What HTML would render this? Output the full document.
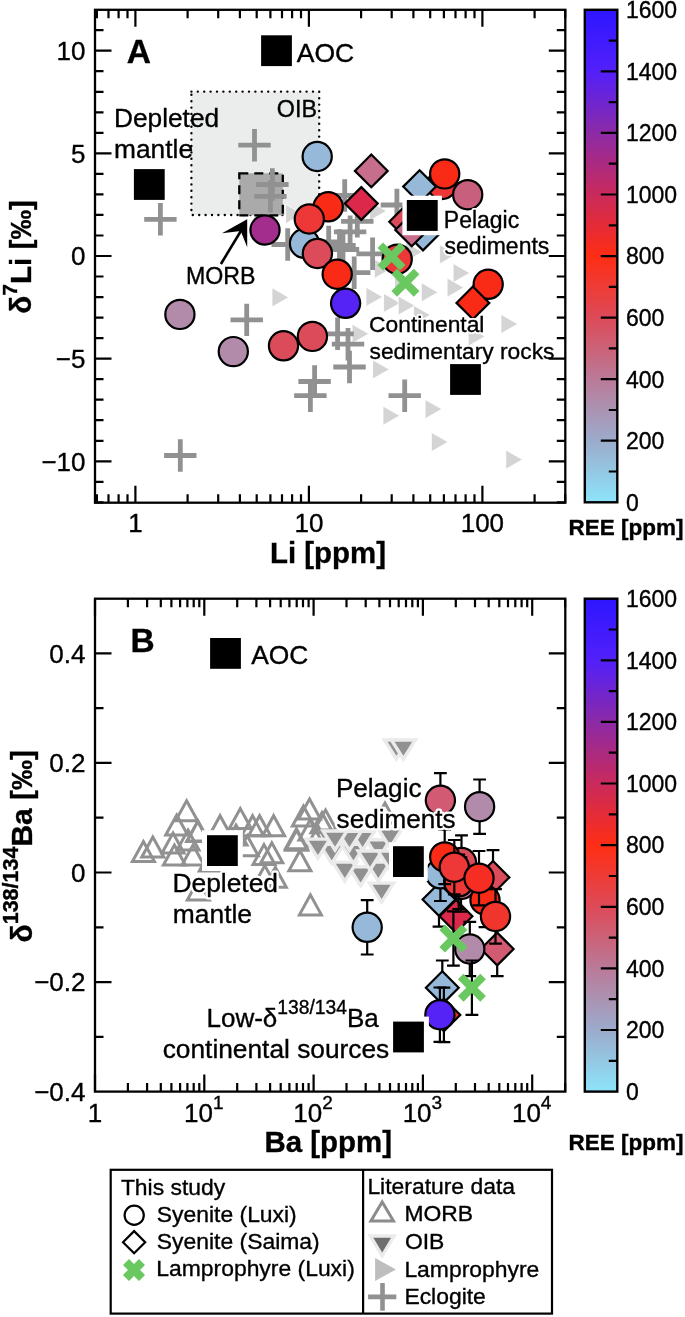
<!DOCTYPE html>
<html><head><meta charset="utf-8"><style>html,body{margin:0;padding:0;background:#fff;}svg{display:block;will-change:transform;}text{font-family:"Liberation Sans", sans-serif;fill:#000;stroke:#000;stroke-width:0.35px;}</style></head>
<body><svg width="685" height="1317" viewBox="0 0 685 1317" font-family='"Liberation Sans", sans-serif'>
<rect width="685" height="1317" fill="#fff"/>
<rect x="191.4" y="91.6" width="127.8" height="123.4" fill="#EBECEC"/>
<rect x="191.4" y="91.6" width="127.8" height="123.4" fill="none" stroke="#000" stroke-width="2.4" stroke-dasharray="0 6.4" stroke-linecap="round"/>
<rect x="239.3" y="173.3" width="43.5" height="42" fill="#AAAAAA" stroke="#000" stroke-width="2.3" stroke-dasharray="9 6"/>
<path d="M372.6 359.8L389.4 369.4L372.6 379.0Z" fill="#D4D4D4" stroke="#fff" stroke-width="0.8"/>
<path d="M383.0 406.1L399.8 415.7L383.0 425.3Z" fill="#D4D4D4" stroke="#fff" stroke-width="0.8"/>
<path d="M425.1 399.5L441.9 409.1L425.1 418.8Z" fill="#D4D4D4" stroke="#fff" stroke-width="0.8"/>
<path d="M431.4 432.4L448.2 442.0L431.4 451.6Z" fill="#D4D4D4" stroke="#fff" stroke-width="0.8"/>
<path d="M505.8 450.0L522.5 459.6L505.8 469.2Z" fill="#D4D4D4" stroke="#fff" stroke-width="0.8"/>
<path d="M272.0 287.8L288.8 297.4L272.0 307.0Z" fill="#D4D4D4" stroke="#fff" stroke-width="0.8"/>
<path d="M352.1 324.2L368.9 333.8L352.1 343.4Z" fill="#D4D4D4" stroke="#fff" stroke-width="0.8"/>
<path d="M366.0 287.2L382.8 296.9L366.0 306.5Z" fill="#D4D4D4" stroke="#fff" stroke-width="0.8"/>
<path d="M453.1 263.4L469.9 273.0L453.1 282.6Z" fill="#D4D4D4" stroke="#fff" stroke-width="0.8"/>
<path d="M447.1 278.0L463.9 287.6L447.1 297.2Z" fill="#D4D4D4" stroke="#fff" stroke-width="0.8"/>
<path d="M421.3 282.7L438.1 292.3L421.3 301.9Z" fill="#D4D4D4" stroke="#fff" stroke-width="0.8"/>
<path d="M501.0 314.4L517.8 324.0L501.0 333.6Z" fill="#D4D4D4" stroke="#fff" stroke-width="0.8"/>
<path d="M468.2 326.9L485.0 336.5L468.2 346.1Z" fill="#D4D4D4" stroke="#fff" stroke-width="0.8"/>
<path d="M439.6 244.7L456.4 254.3L439.6 263.9Z" fill="#D4D4D4" stroke="#fff" stroke-width="0.8"/>
<path d="M383.6 293.4L400.4 303.0L383.6 312.6Z" fill="#D4D4D4" stroke="#fff" stroke-width="0.8"/>
<path d="M398.2 296.0L415.0 305.6L398.2 315.2Z" fill="#D4D4D4" stroke="#fff" stroke-width="0.8"/>
<path d="M405.6 242.3L422.4 252.0L405.6 261.6Z" fill="#D4D4D4" stroke="#fff" stroke-width="0.8"/>
<path d="M374.3 259.2L391.1 268.8L374.3 278.4Z" fill="#D4D4D4" stroke="#fff" stroke-width="0.8"/>
<path d="M394.6 273.0L411.4 282.6L394.6 292.2Z" fill="#D4D4D4" stroke="#fff" stroke-width="0.8"/>
<path d="M413.6 305.4L430.4 315.0L413.6 324.6Z" fill="#D4D4D4" stroke="#fff" stroke-width="0.8"/>
<path d="M369.6 201.3L386.4 211.0L369.6 220.7Z" fill="#D4D4D4" stroke="#fff" stroke-width="0.8"/>
<path d="M285.6 204.3L302.4 214.0L285.6 223.7Z" fill="#D4D4D4" stroke="#fff" stroke-width="0.8"/>
<path d="M238.3 145.2H270.7M254.5 129.0V161.4" stroke="#919191" stroke-width="4.8" fill="none"/>
<path d="M144.2 219.3H176.6M160.4 203.1V235.5" stroke="#919191" stroke-width="4.8" fill="none"/>
<path d="M256.2 184.5H288.6M272.4 168.3V200.7" stroke="#919191" stroke-width="4.8" fill="none"/>
<path d="M254.2 196.4H286.6M270.4 180.2V212.6" stroke="#919191" stroke-width="4.8" fill="none"/>
<path d="M271.5 244.5H303.9M287.7 228.3V260.7" stroke="#919191" stroke-width="4.8" fill="none"/>
<path d="M230.5 319.9H262.9M246.7 303.7V336.1" stroke="#919191" stroke-width="4.8" fill="none"/>
<path d="M328.5 195.5H360.9M344.7 179.3V211.7" stroke="#919191" stroke-width="4.8" fill="none"/>
<path d="M380.7 205.0H413.1M396.9 188.8V221.2" stroke="#919191" stroke-width="4.8" fill="none"/>
<path d="M341.1 221.3H373.5M357.3 205.1V237.5" stroke="#919191" stroke-width="4.8" fill="none"/>
<path d="M333.9 231.8H366.3M350.1 215.6V248.0" stroke="#919191" stroke-width="4.8" fill="none"/>
<path d="M312.5 242.0H344.9M328.7 225.8V258.2" stroke="#919191" stroke-width="4.8" fill="none"/>
<path d="M323.3 245.5H355.7M339.5 229.3V261.7" stroke="#919191" stroke-width="4.8" fill="none"/>
<path d="M356.4 253.8H388.8M372.6 237.6V270.0" stroke="#919191" stroke-width="4.8" fill="none"/>
<path d="M338.0 272.7H370.4M354.2 256.5V288.9" stroke="#919191" stroke-width="4.8" fill="none"/>
<path d="M326.8 249.5H359.2M343.0 233.3V265.7" stroke="#919191" stroke-width="4.8" fill="none"/>
<path d="M321.4 333.8H353.8M337.6 317.6V350.0" stroke="#919191" stroke-width="4.8" fill="none"/>
<path d="M331.8 344.2H364.2M348.0 328.0V360.4" stroke="#919191" stroke-width="4.8" fill="none"/>
<path d="M333.3 367.0H365.7M349.5 350.8V383.2" stroke="#919191" stroke-width="4.8" fill="none"/>
<path d="M298.4 381.5H330.8M314.6 365.3V397.7" stroke="#919191" stroke-width="4.8" fill="none"/>
<path d="M294.2 395.7H326.6M310.4 379.5V411.9" stroke="#919191" stroke-width="4.8" fill="none"/>
<path d="M388.5 395.7H420.9M404.7 379.5V411.9" stroke="#919191" stroke-width="4.8" fill="none"/>
<path d="M164.1 455.5H196.5M180.3 439.3V471.7" stroke="#919191" stroke-width="4.8" fill="none"/>
<circle cx="265.0" cy="230.0" r="14.6" fill="#A22D8C" stroke="#000" stroke-width="2.2"/>
<circle cx="317.2" cy="156.5" r="14.6" fill="#97B9D9" stroke="#000" stroke-width="2.2"/>
<circle cx="304.5" cy="243.5" r="14.6" fill="#97B9D9" stroke="#000" stroke-width="2.2"/>
<circle cx="317.4" cy="253.5" r="14.6" fill="#DC4B5A" stroke="#000" stroke-width="2.2"/>
<circle cx="328.2" cy="206.8" r="14.6" fill="#F92A16" stroke="#000" stroke-width="2.2"/>
<circle cx="309.3" cy="219.0" r="14.6" fill="#EE3737" stroke="#000" stroke-width="2.2"/>
<circle cx="337.2" cy="274.2" r="14.6" fill="#F92A16" stroke="#000" stroke-width="2.2"/>
<circle cx="345.6" cy="303.3" r="14.6" fill="#5523F5" stroke="#000" stroke-width="2.2"/>
<circle cx="179.9" cy="314.4" r="14.6" fill="#B28BAB" stroke="#000" stroke-width="2.2"/>
<circle cx="233.3" cy="351.6" r="14.6" fill="#B28BAB" stroke="#000" stroke-width="2.2"/>
<circle cx="283.5" cy="345.8" r="14.6" fill="#DC4B5A" stroke="#000" stroke-width="2.2"/>
<circle cx="312.4" cy="336.4" r="14.6" fill="#DC4B5A" stroke="#000" stroke-width="2.2"/>
<path d="M371.3 154.5L387.7 170.9L371.3 187.3L354.9 170.9Z" fill="#C66E8C" stroke="#000" stroke-width="2.2" stroke-linejoin="miter"/>
<path d="M361.3 187.1L377.7 203.5L361.3 219.9L344.9 203.5Z" fill="#DC284B" stroke="#000" stroke-width="2.2" stroke-linejoin="miter"/>
<circle cx="442.0" cy="184.5" r="14.6" fill="#EE3737" stroke="#000" stroke-width="2.2"/>
<path d="M419.6 170.2L436.0 186.6L419.6 203.0L403.2 186.6Z" fill="#97B9D9" stroke="#000" stroke-width="2.2" stroke-linejoin="miter"/>
<circle cx="444.7" cy="173.9" r="14.6" fill="#F92A16" stroke="#000" stroke-width="2.2"/>
<circle cx="467.7" cy="194.7" r="14.6" fill="#C85F7D" stroke="#000" stroke-width="2.2"/>
<path d="M423.0 217.6L439.4 234.0L423.0 250.4L406.6 234.0Z" fill="#97B9D9" stroke="#000" stroke-width="2.2" stroke-linejoin="miter"/>
<path d="M405.7 205.4L422.1 221.8L405.7 238.2L389.3 221.8Z" fill="#DC4B5A" stroke="#000" stroke-width="2.2" stroke-linejoin="miter"/>
<path d="M411.7 213.5L428.1 229.9L411.7 246.3L395.3 229.9Z" fill="#C66E8C" stroke="#000" stroke-width="2.2" stroke-linejoin="miter"/>
<circle cx="397.2" cy="259.2" r="14.6" fill="#EE3737" stroke="#000" stroke-width="2.2"/>
<circle cx="488.2" cy="284.3" r="14.6" fill="#F92A16" stroke="#000" stroke-width="2.2"/>
<path d="M472.9 286.5L489.3 302.9L472.9 319.3L456.5 302.9Z" fill="#F92A16" stroke="#000" stroke-width="2.2" stroke-linejoin="miter"/>
<path d="M397.1 256.5L405.5 264.9L399.9 270.5L391.5 262.1L383.1 270.5L377.5 264.9L385.9 256.5L377.5 248.1L383.1 242.5L391.5 250.9L399.9 242.5L405.5 248.1Z" fill="#69C85F"/>
<path d="M411.0 282.7L419.4 291.1L413.8 296.7L405.4 288.3L397.0 296.7L391.4 291.1L399.8 282.7L391.4 274.3L397.0 268.7L405.4 277.1L413.8 268.7L419.4 274.3Z" fill="#69C85F"/>
<rect x="261.1" y="35.3" width="30.8" height="30.8" fill="#000"/>
<rect x="133.9" y="169.1" width="30.8" height="30.8" fill="#000"/>
<rect x="402.4" y="195.7" width="39.5" height="39.5" fill="#fff"/>
<rect x="406.8" y="200.0" width="30.9" height="30.9" fill="#000"/>
<rect x="450.1" y="364.1" width="30.8" height="30.8" fill="#000"/>
<text x="126.8" y="62.7" font-size="33.5" font-weight="bold" text-anchor="start">A</text>
<text x="296.8" y="61.6" font-size="26.5" font-weight="normal" text-anchor="start">AOC</text>
<text x="276.8" y="116.9" font-size="23.3" font-weight="normal" text-anchor="start">OIB</text>
<text x="113.9" y="127.2" font-size="26.3" font-weight="normal" text-anchor="start">Depleted</text>
<text x="114.1" y="157.5" font-size="26.3" font-weight="normal" text-anchor="start">mantle</text>
<text x="186.0" y="283.9" font-size="23.2" font-weight="normal" text-anchor="start" style="fill:#fff;stroke:#fff;stroke-width:4;stroke-linejoin:round">MORB</text>
<text x="186.0" y="283.9" font-size="23.2" font-weight="normal" text-anchor="start">MORB</text>
<text x="443.8" y="228" font-size="23" font-weight="normal" text-anchor="start" style="fill:#fff;stroke:#fff;stroke-width:4;stroke-linejoin:round">Pelagic</text>
<text x="443.8" y="228" font-size="23" font-weight="normal" text-anchor="start">Pelagic</text>
<text x="444.5" y="254.3" font-size="23" font-weight="normal" text-anchor="start" style="fill:#fff;stroke:#fff;stroke-width:4;stroke-linejoin:round">sediments</text>
<text x="444.5" y="254.3" font-size="23" font-weight="normal" text-anchor="start">sediments</text>
<text x="369.1" y="331.9" font-size="22.8" font-weight="normal" text-anchor="start" style="fill:#fff;stroke:#fff;stroke-width:4;stroke-linejoin:round">Continental</text>
<text x="369.1" y="331.9" font-size="22.8" font-weight="normal" text-anchor="start">Continental</text>
<text x="369.5" y="359" font-size="22.8" font-weight="normal" text-anchor="start" style="fill:#fff;stroke:#fff;stroke-width:4;stroke-linejoin:round">sedimentary rocks</text>
<text x="369.5" y="359" font-size="22.8" font-weight="normal" text-anchor="start">sedimentary rocks</text>
<path d="M220.9 264L243 227.5" stroke="#000" stroke-width="2.6"/>
<path d="M247.2 219.3L222 233.3L240.7 231L247.2 247.3Z" fill="#000"/>
<rect x="95.0" y="9.8" width="470.3" height="492.9" fill="none" stroke="#000" stroke-width="2.3"/>
<path d="M135.4 502.7v-17M135.4 9.8v17M308.9 502.7v-17M308.9 9.8v17M482.4 502.7v-17M482.4 9.8v17M96.9 502.7v-8.5M96.9 9.8v8.5M108.5 502.7v-8.5M108.5 9.8v8.5M118.6 502.7v-8.5M118.6 9.8v8.5M127.5 502.7v-8.5M127.5 9.8v8.5M187.6 502.7v-8.5M187.6 9.8v8.5M218.2 502.7v-8.5M218.2 9.8v8.5M239.9 502.7v-8.5M239.9 9.8v8.5M256.7 502.7v-8.5M256.7 9.8v8.5M270.4 502.7v-8.5M270.4 9.8v8.5M282.0 502.7v-8.5M282.0 9.8v8.5M292.1 502.7v-8.5M292.1 9.8v8.5M301.0 502.7v-8.5M301.0 9.8v8.5M361.1 502.7v-8.5M361.1 9.8v8.5M391.7 502.7v-8.5M391.7 9.8v8.5M413.4 502.7v-8.5M413.4 9.8v8.5M430.2 502.7v-8.5M430.2 9.8v8.5M443.9 502.7v-8.5M443.9 9.8v8.5M455.5 502.7v-8.5M455.5 9.8v8.5M465.6 502.7v-8.5M465.6 9.8v8.5M474.5 502.7v-8.5M474.5 9.8v8.5M534.6 502.7v-8.5M534.6 9.8v8.5M565.2 502.7v-8.5M565.2 9.8v8.5" stroke="#000" stroke-width="2.2" fill="none"/>
<path d="M95.0 50.7h16.5M565.3 50.7h-16.5M95.0 153.3h16.5M565.3 153.3h-16.5M95.0 256.0h16.5M565.3 256.0h-16.5M95.0 358.6h16.5M565.3 358.6h-16.5M95.0 461.3h16.5M565.3 461.3h-16.5M95.0 502.4h8.5M565.3 502.4h-8.5M95.0 481.8h8.5M565.3 481.8h-8.5M95.0 440.8h8.5M565.3 440.8h-8.5M95.0 420.2h8.5M565.3 420.2h-8.5M95.0 399.7h8.5M565.3 399.7h-8.5M95.0 379.2h8.5M565.3 379.2h-8.5M95.0 338.1h8.5M565.3 338.1h-8.5M95.0 317.6h8.5M565.3 317.6h-8.5M95.0 297.1h8.5M565.3 297.1h-8.5M95.0 276.5h8.5M565.3 276.5h-8.5M95.0 235.5h8.5M565.3 235.5h-8.5M95.0 214.9h8.5M565.3 214.9h-8.5M95.0 194.4h8.5M565.3 194.4h-8.5M95.0 173.9h8.5M565.3 173.9h-8.5M95.0 132.8h8.5M565.3 132.8h-8.5M95.0 112.3h8.5M565.3 112.3h-8.5M95.0 91.8h8.5M565.3 91.8h-8.5M95.0 71.2h8.5M565.3 71.2h-8.5M95.0 30.2h8.5M565.3 30.2h-8.5" stroke="#000" stroke-width="2.2" fill="none"/>
<text x="85.5" y="60.0" font-size="26" font-weight="normal" text-anchor="end">10</text>
<text x="85.5" y="162.7" font-size="26" font-weight="normal" text-anchor="end">5</text>
<text x="85.5" y="265.3" font-size="26" font-weight="normal" text-anchor="end">0</text>
<text x="85.5" y="367.9" font-size="26" font-weight="normal" text-anchor="end">−5</text>
<text x="85.5" y="470.6" font-size="26" font-weight="normal" text-anchor="end">−10</text>
<text x="135.4" y="532.4" font-size="26" font-weight="normal" text-anchor="middle">1</text>
<text x="308.9" y="532.4" font-size="26" font-weight="normal" text-anchor="middle">10</text>
<text x="482.4" y="532.4" font-size="26" font-weight="normal" text-anchor="middle">100</text>
<text x="328" y="562.8" font-size="29.4" font-weight="bold" text-anchor="middle">Li [ppm]</text>
<text transform="translate(31 256.9) rotate(-90)" font-size="29.6" font-weight="bold" text-anchor="middle">δ<tspan font-size="21" dy="-13.6">7</tspan><tspan dy="13.6">Li [‰]</tspan></text>
<defs><linearGradient id="cb9" x1="0" y1="1" x2="0" y2="0"><stop offset="0.0000" stop-color="#8CE4FA"/><stop offset="0.1250" stop-color="#9CABCC"/><stop offset="0.2500" stop-color="#BA7A98"/><stop offset="0.3750" stop-color="#DD4A58"/><stop offset="0.5000" stop-color="#FF2D14"/><stop offset="0.6250" stop-color="#C92A5C"/><stop offset="0.7500" stop-color="#8C2AA6"/><stop offset="0.8750" stop-color="#5220FA"/><stop offset="1.0000" stop-color="#2E16FF"/></linearGradient></defs>
<rect x="584.8" y="9.8" width="32.5" height="492.5" fill="url(#cb9)" stroke="#000" stroke-width="2.4"/>
<path d="M617.3 471.5h-8.5M617.3 440.7h-16.5M617.3 410.0h-8.5M617.3 379.2h-16.5M617.3 348.4h-8.5M617.3 317.6h-16.5M617.3 286.8h-8.5M617.3 256.1h-16.5M617.3 225.3h-8.5M617.3 194.5h-16.5M617.3 163.7h-8.5M617.3 132.9h-16.5M617.3 102.1h-8.5M617.3 71.4h-16.5M617.3 40.6h-8.5" stroke="#000" stroke-width="2.2" fill="none"/>
<text x="626" y="510.6" font-size="23" font-weight="normal" text-anchor="start">0</text>
<text x="626" y="449.0" font-size="23" font-weight="normal" text-anchor="start">200</text>
<text x="626" y="387.5" font-size="23" font-weight="normal" text-anchor="start">400</text>
<text x="626" y="325.9" font-size="23" font-weight="normal" text-anchor="start">600</text>
<text x="626" y="264.4" font-size="23" font-weight="normal" text-anchor="start">800</text>
<text x="626" y="202.8" font-size="23" font-weight="normal" text-anchor="start">1000</text>
<text x="626" y="141.2" font-size="23" font-weight="normal" text-anchor="start">1200</text>
<text x="626" y="79.7" font-size="23" font-weight="normal" text-anchor="start">1400</text>
<text x="626" y="18.1" font-size="23" font-weight="normal" text-anchor="start">1600</text>
<text x="568.4" y="535.4" font-size="22.5" font-weight="bold" text-anchor="start">REE [ppm]</text>
<path d="M186.6 800.8L197.6 820.8L175.6 820.8Z" fill="none" stroke="#919191" stroke-width="3"/>
<path d="M176.7 815.0L187.7 835.0L165.7 835.0Z" fill="none" stroke="#919191" stroke-width="3"/>
<path d="M152.8 837.0L163.8 857.0L141.8 857.0Z" fill="none" stroke="#919191" stroke-width="3"/>
<path d="M143.4 841.5L154.4 861.5L132.4 861.5Z" fill="none" stroke="#919191" stroke-width="3"/>
<path d="M173.0 833.0L184.0 853.0L162.0 853.0Z" fill="none" stroke="#919191" stroke-width="3"/>
<path d="M197.7 821.5L208.7 841.5L186.7 841.5Z" fill="none" stroke="#919191" stroke-width="3"/>
<path d="M188.0 830.0L199.0 850.0L177.0 850.0Z" fill="none" stroke="#919191" stroke-width="3"/>
<path d="M198.0 821.0L209.0 841.0L187.0 841.0Z" fill="none" stroke="#919191" stroke-width="3"/>
<path d="M174.4 845.0L185.4 865.0L163.4 865.0Z" fill="none" stroke="#919191" stroke-width="3"/>
<path d="M193.0 845.0L204.0 865.0L182.0 865.0Z" fill="none" stroke="#919191" stroke-width="3"/>
<path d="M220.1 815.7L231.1 835.7L209.1 835.7Z" fill="none" stroke="#919191" stroke-width="3"/>
<path d="M240.3 808.6L251.3 828.6L229.3 828.6Z" fill="none" stroke="#919191" stroke-width="3"/>
<path d="M252.6 815.7L263.6 835.7L241.6 835.7Z" fill="none" stroke="#919191" stroke-width="3"/>
<path d="M259.6 815.7L270.6 835.7L248.6 835.7Z" fill="none" stroke="#919191" stroke-width="3"/>
<path d="M273.6 815.7L284.6 835.7L262.6 835.7Z" fill="none" stroke="#919191" stroke-width="3"/>
<path d="M309.5 799.0L320.5 819.0L298.5 819.0Z" fill="none" stroke="#919191" stroke-width="3"/>
<path d="M303.4 806.0L314.4 826.0L292.4 826.0Z" fill="none" stroke="#919191" stroke-width="3"/>
<path d="M296.4 828.8L307.4 848.8L285.4 848.8Z" fill="none" stroke="#919191" stroke-width="3"/>
<path d="M271.8 842.8L282.8 862.8L260.8 862.8Z" fill="none" stroke="#919191" stroke-width="3"/>
<path d="M264.0 844.6L275.0 864.6L253.0 864.6Z" fill="none" stroke="#919191" stroke-width="3"/>
<path d="M247.3 835.8L258.3 855.8L236.3 855.8Z" fill="none" stroke="#919191" stroke-width="3"/>
<path d="M299.9 850.7L310.9 870.7L288.9 870.7Z" fill="none" stroke="#919191" stroke-width="3"/>
<path d="M264.8 865.6L275.8 885.6L253.8 885.6Z" fill="none" stroke="#919191" stroke-width="3"/>
<path d="M275.3 867.3L286.3 887.3L264.3 887.3Z" fill="none" stroke="#919191" stroke-width="3"/>
<path d="M325.5 810.0L336.5 830.0L314.5 830.0Z" fill="none" stroke="#919191" stroke-width="3"/>
<path d="M322.0 812.7L333.0 832.7L311.0 832.7Z" fill="none" stroke="#919191" stroke-width="3"/>
<path d="M296.6 830.2L307.6 850.2L285.6 850.2Z" fill="none" stroke="#919191" stroke-width="3"/>
<path d="M310.0 820.0L321.0 840.0L299.0 840.0Z" fill="none" stroke="#919191" stroke-width="3"/>
<path d="M310.4 894.9L321.4 914.9L299.4 914.9Z" fill="none" stroke="#919191" stroke-width="3"/>
<path d="M198.3 880.0L209.3 900.0L187.3 900.0Z" fill="none" stroke="#919191" stroke-width="3"/>
<path d="M210.3 851.0L221.3 871.0L199.3 871.0Z" fill="none" stroke="#919191" stroke-width="3"/>
<path d="M385.0 803.0L396.0 823.0L374.0 823.0Z" fill="none" stroke="#919191" stroke-width="3"/>
<path d="M318.0 826.0L329.0 846.0L307.0 846.0Z" fill="none" stroke="#919191" stroke-width="3"/>
<path d="M236.0 825.0L247.0 845.0L225.0 845.0Z" fill="none" stroke="#919191" stroke-width="3"/>
<path d="M384.4 740.0L408.4 740.0L396.4 759.0Z" fill="#919191" stroke="#EBEBEB" stroke-width="3.4"/>
<path d="M391.4 740.0L415.4 740.0L403.4 759.0Z" fill="#919191" stroke="#EBEBEB" stroke-width="3.4"/>
<path d="M369.6 883.1L393.6 883.1L381.6 902.1Z" fill="#919191" stroke="#EBEBEB" stroke-width="3.4"/>
<path d="M348.6 866.7L372.6 866.7L360.6 885.7Z" fill="#919191" stroke="#EBEBEB" stroke-width="3.4"/>
<path d="M332.8 862.1L356.8 862.1L344.8 881.1Z" fill="#919191" stroke="#EBEBEB" stroke-width="3.4"/>
<path d="M366.3 862.1L390.3 862.1L378.3 881.1Z" fill="#919191" stroke="#EBEBEB" stroke-width="3.4"/>
<path d="M319.7 844.3L343.7 844.3L331.7 863.3Z" fill="#919191" stroke="#EBEBEB" stroke-width="3.4"/>
<path d="M341.4 844.3L365.4 844.3L353.4 863.3Z" fill="#919191" stroke="#EBEBEB" stroke-width="3.4"/>
<path d="M366.3 839.7L390.3 839.7L378.3 858.7Z" fill="#919191" stroke="#EBEBEB" stroke-width="3.4"/>
<path d="M305.9 839.1L329.9 839.1L317.9 858.1Z" fill="#919191" stroke="#EBEBEB" stroke-width="3.4"/>
<path d="M350.6 831.2L374.6 831.2L362.6 850.2Z" fill="#919191" stroke="#EBEBEB" stroke-width="3.4"/>
<path d="M378.1 828.6L402.1 828.6L390.1 847.6Z" fill="#919191" stroke="#EBEBEB" stroke-width="3.4"/>
<path d="M337.4 831.2L361.4 831.2L349.4 850.2Z" fill="#919191" stroke="#EBEBEB" stroke-width="3.4"/>
<path d="M323.0 831.0L347.0 831.0L335.0 850.0Z" fill="#919191" stroke="#EBEBEB" stroke-width="3.4"/>
<path d="M358.0 851.0L382.0 851.0L370.0 870.0Z" fill="#919191" stroke="#EBEBEB" stroke-width="3.4"/>
<path d="M378.0 851.0L402.0 851.0L390.0 870.0Z" fill="#919191" stroke="#EBEBEB" stroke-width="3.4"/>
<path d="M493.0 850.2V904.6M486.6 850.2H499.4M486.6 904.6H499.4" stroke="#000" stroke-width="2.2" fill="none"/>
<path d="M493.0 861.0L509.4 877.4L493.0 893.8L476.6 877.4Z" fill="#DC4B5A" stroke="#000" stroke-width="2.2" stroke-linejoin="miter"/>
<path d="M439.0 872.3V926.7M432.6 872.3H445.4M432.6 926.7H445.4" stroke="#000" stroke-width="2.2" fill="none"/>
<path d="M439.0 883.1L455.4 899.5L439.0 915.9L422.6 899.5Z" fill="#97B9D9" stroke="#000" stroke-width="2.2" stroke-linejoin="miter"/>
<path d="M456.0 889.1V943.5M449.6 889.1H462.4M449.6 943.5H462.4" stroke="#000" stroke-width="2.2" fill="none"/>
<path d="M456.0 899.9L472.4 916.3L456.0 932.7L439.6 916.3Z" fill="#DC284B" stroke="#000" stroke-width="2.2" stroke-linejoin="miter"/>
<path d="M497.2 921.8V976.2M490.8 921.8H503.6M490.8 976.2H503.6" stroke="#000" stroke-width="2.2" fill="none"/>
<path d="M497.2 932.6L513.6 949.0L497.2 965.4L480.8 949.0Z" fill="#D25A73" stroke="#000" stroke-width="2.2" stroke-linejoin="miter"/>
<path d="M442.3 960.5V1014.9M435.9 960.5H448.7M435.9 1014.9H448.7" stroke="#000" stroke-width="2.2" fill="none"/>
<path d="M442.3 971.3L458.7 987.7L442.3 1004.1L425.9 987.7Z" fill="#97B9D9" stroke="#000" stroke-width="2.2" stroke-linejoin="miter"/>
<path d="M443.9 987.7V1042.1M437.5 987.7H450.3M437.5 1042.1H450.3" stroke="#000" stroke-width="2.2" fill="none"/>
<path d="M443.9 998.5L460.3 1014.9L443.9 1031.3L427.5 1014.9Z" fill="#F0321E" stroke="#000" stroke-width="2.2" stroke-linejoin="miter"/>
<path d="M440.4 773.1V827.5M434.0 773.1H446.8M434.0 827.5H446.8" stroke="#000" stroke-width="2.2" fill="none"/>
<circle cx="440.4" cy="800.3" r="14.6" fill="#D25A73" stroke="#000" stroke-width="2.2"/>
<path d="M479.6 779.5V833.9M473.2 779.5H486.0M473.2 833.9H486.0" stroke="#000" stroke-width="2.2" fill="none"/>
<circle cx="479.6" cy="806.7" r="14.6" fill="#B28BAB" stroke="#000" stroke-width="2.2"/>
<path d="M367.2 900.1V954.5M360.8 900.1H373.6M360.8 954.5H373.6" stroke="#000" stroke-width="2.2" fill="none"/>
<circle cx="367.2" cy="927.3" r="14.6" fill="#97B9D9" stroke="#000" stroke-width="2.2"/>
<path d="M440.4 846.6V901.0M434.0 846.6H446.8M434.0 901.0H446.8" stroke="#000" stroke-width="2.2" fill="none"/>
<circle cx="440.4" cy="873.8" r="14.6" fill="#97B9D9" stroke="#000" stroke-width="2.2"/>
<path d="M461.5 835.3V889.7M455.1 835.3H467.9M455.1 889.7H467.9" stroke="#000" stroke-width="2.2" fill="none"/>
<circle cx="461.5" cy="862.5" r="14.6" fill="#DC4B5A" stroke="#000" stroke-width="2.2"/>
<path d="M461.0 857.3V911.7M454.6 857.3H467.4M454.6 911.7H467.4" stroke="#000" stroke-width="2.2" fill="none"/>
<circle cx="461.0" cy="884.5" r="14.6" fill="#C66E8C" stroke="#000" stroke-width="2.2"/>
<path d="M458.7 854.6V909.0M452.3 854.6H465.1M452.3 909.0H465.1" stroke="#000" stroke-width="2.2" fill="none"/>
<circle cx="458.7" cy="881.8" r="14.6" fill="#EE3737" stroke="#000" stroke-width="2.2"/>
<path d="M444.7 829.7V884.1M438.3 829.7H451.1M438.3 884.1H451.1" stroke="#000" stroke-width="2.2" fill="none"/>
<circle cx="444.7" cy="856.9" r="14.6" fill="#F92A16" stroke="#000" stroke-width="2.2"/>
<path d="M454.3 840.0V894.4M447.9 840.0H460.7M447.9 894.4H460.7" stroke="#000" stroke-width="2.2" fill="none"/>
<circle cx="454.3" cy="867.2" r="14.6" fill="#EE3737" stroke="#000" stroke-width="2.2"/>
<path d="M485.0 872.8V927.2M478.6 872.8H491.4M478.6 927.2H491.4" stroke="#000" stroke-width="2.2" fill="none"/>
<circle cx="485.0" cy="900.0" r="14.6" fill="#F92A16" stroke="#000" stroke-width="2.2"/>
<path d="M479.0 851.0V905.4M472.6 851.0H485.4M472.6 905.4H485.4" stroke="#000" stroke-width="2.2" fill="none"/>
<circle cx="479.0" cy="878.2" r="14.6" fill="#F52D23" stroke="#000" stroke-width="2.2"/>
<path d="M495.5 889.2V943.6M489.1 889.2H501.9M489.1 943.6H501.9" stroke="#000" stroke-width="2.2" fill="none"/>
<circle cx="495.5" cy="916.4" r="14.6" fill="#F0352D" stroke="#000" stroke-width="2.2"/>
<path d="M469.8 921.8V976.2M463.4 921.8H476.2M463.4 976.2H476.2" stroke="#000" stroke-width="2.2" fill="none"/>
<circle cx="469.8" cy="949.0" r="14.6" fill="#B28BAB" stroke="#000" stroke-width="2.2"/>
<path d="M439.9 987.5V1041.9M433.5 987.5H446.3M433.5 1041.9H446.3" stroke="#000" stroke-width="2.2" fill="none"/>
<circle cx="439.9" cy="1014.7" r="14.6" fill="#5523F5" stroke="#000" stroke-width="2.2"/>
<path d="M453.4 911.3V965.7M447.0 911.3H459.8M447.0 965.7H459.8" stroke="#000" stroke-width="2.2" fill="none"/>
<path d="M459.0 938.5L467.4 946.9L461.8 952.5L453.4 944.1L445.0 952.5L439.4 946.9L447.8 938.5L439.4 930.1L445.0 924.5L453.4 932.9L461.8 924.5L467.4 930.1Z" fill="#69C85F"/>
<path d="M471.9 960.5V1014.9M465.5 960.5H478.3M465.5 1014.9H478.3" stroke="#000" stroke-width="2.2" fill="none"/>
<path d="M477.5 987.7L485.9 996.1L480.3 1001.7L471.9 993.3L463.5 1001.7L457.9 996.1L466.3 987.7L457.9 979.3L463.5 973.7L471.9 982.1L480.3 973.7L485.9 979.3Z" fill="#69C85F"/>
<rect x="210.1" y="638.0" width="30.8" height="30.8" fill="#000"/>
<rect x="202.0" y="830.2" width="40.8" height="40.8" fill="#fff"/>
<rect x="207.0" y="835.2" width="30.8" height="30.8" fill="#000"/>
<rect x="389.0" y="842.2" width="38.8" height="38.8" fill="#fff"/>
<rect x="393.0" y="846.2" width="30.8" height="30.8" fill="#000"/>
<rect x="388.1" y="1016.6" width="40.8" height="40.8" fill="#fff"/>
<rect x="393.1" y="1021.6" width="30.8" height="30.8" fill="#000"/>
<text x="130.5" y="651.9" font-size="33.5" font-weight="bold" text-anchor="start">B</text>
<text x="251.2" y="663.5" font-size="26.4" font-weight="normal" text-anchor="start">AOC</text>
<text x="335.9" y="797.2" font-size="26.1" font-weight="normal" text-anchor="start" style="fill:#fff;stroke:#fff;stroke-width:5.0;stroke-linejoin:round">Pelagic</text>
<text x="335.9" y="797.2" font-size="26.1" font-weight="normal" text-anchor="start">Pelagic</text>
<text x="336.6" y="828.2" font-size="26.1" font-weight="normal" text-anchor="start" style="fill:#fff;stroke:#fff;stroke-width:5.0;stroke-linejoin:round">sediments</text>
<text x="336.6" y="828.2" font-size="26.1" font-weight="normal" text-anchor="start">sediments</text>
<text x="172.4" y="892.2" font-size="26.4" font-weight="normal" text-anchor="start" style="fill:#fff;stroke:#fff;stroke-width:5.0;stroke-linejoin:round">Depleted</text>
<text x="172.4" y="892.2" font-size="26.4" font-weight="normal" text-anchor="start">Depleted</text>
<text x="172.8" y="923.2" font-size="26.4" font-weight="normal" text-anchor="start" style="fill:#fff;stroke:#fff;stroke-width:5.0;stroke-linejoin:round">mantle</text>
<text x="172.8" y="923.2" font-size="26.4" font-weight="normal" text-anchor="start">mantle</text>
<text x="206.5" y="1026.6" font-size="26">Low-δ<tspan font-size="19.3" dy="-12.5">138/134</tspan><tspan dy="12.5">Ba</tspan></text>
<text x="162.7" y="1057.8" font-size="26.3" font-weight="normal" text-anchor="start">continental sources</text>
<rect x="95.0" y="598.7" width="470.3" height="492.9" fill="none" stroke="#000" stroke-width="2.3"/>
<path d="M95.0 1091.6v-17M95.0 598.7v17M204.3 1091.6v-17M204.3 598.7v17M313.6 1091.6v-17M313.6 598.7v17M422.9 1091.6v-17M422.9 598.7v17M532.2 1091.6v-17M532.2 598.7v17M127.9 1091.6v-8.5M127.9 598.7v8.5M147.1 1091.6v-8.5M147.1 598.7v8.5M160.8 1091.6v-8.5M160.8 598.7v8.5M171.4 1091.6v-8.5M171.4 598.7v8.5M180.1 1091.6v-8.5M180.1 598.7v8.5M187.4 1091.6v-8.5M187.4 598.7v8.5M193.7 1091.6v-8.5M193.7 598.7v8.5M199.3 1091.6v-8.5M199.3 598.7v8.5M237.2 1091.6v-8.5M237.2 598.7v8.5M256.4 1091.6v-8.5M256.4 598.7v8.5M270.1 1091.6v-8.5M270.1 598.7v8.5M280.7 1091.6v-8.5M280.7 598.7v8.5M289.4 1091.6v-8.5M289.4 598.7v8.5M296.7 1091.6v-8.5M296.7 598.7v8.5M303.0 1091.6v-8.5M303.0 598.7v8.5M308.6 1091.6v-8.5M308.6 598.7v8.5M346.5 1091.6v-8.5M346.5 598.7v8.5M365.7 1091.6v-8.5M365.7 598.7v8.5M379.4 1091.6v-8.5M379.4 598.7v8.5M390.0 1091.6v-8.5M390.0 598.7v8.5M398.7 1091.6v-8.5M398.7 598.7v8.5M406.0 1091.6v-8.5M406.0 598.7v8.5M412.3 1091.6v-8.5M412.3 598.7v8.5M417.9 1091.6v-8.5M417.9 598.7v8.5M455.8 1091.6v-8.5M455.8 598.7v8.5M475.0 1091.6v-8.5M475.0 598.7v8.5M488.7 1091.6v-8.5M488.7 598.7v8.5M499.3 1091.6v-8.5M499.3 598.7v8.5M508.0 1091.6v-8.5M508.0 598.7v8.5M515.3 1091.6v-8.5M515.3 598.7v8.5M521.6 1091.6v-8.5M521.6 598.7v8.5M527.2 1091.6v-8.5M527.2 598.7v8.5M565.1 1091.6v-8.5M565.1 598.7v8.5" stroke="#000" stroke-width="2.2" fill="none"/>
<path d="M95.0 653.4h16.5M565.3 653.4h-16.5M95.0 762.9h16.5M565.3 762.9h-16.5M95.0 872.5h16.5M565.3 872.5h-16.5M95.0 982.1h16.5M565.3 982.1h-16.5M95.0 708.2h8.5M565.3 708.2h-8.5M95.0 817.7h8.5M565.3 817.7h-8.5M95.0 927.3h8.5M565.3 927.3h-8.5M95.0 1036.8h8.5M565.3 1036.8h-8.5" stroke="#000" stroke-width="2.2" fill="none"/>
<text x="85.5" y="662.7" font-size="26" font-weight="normal" text-anchor="end">0.4</text>
<text x="85.5" y="772.2" font-size="26" font-weight="normal" text-anchor="end">0.2</text>
<text x="85.5" y="881.8" font-size="26" font-weight="normal" text-anchor="end">0</text>
<text x="85.5" y="991.4" font-size="26" font-weight="normal" text-anchor="end">−0.2</text>
<text x="85.5" y="1100.9" font-size="26" font-weight="normal" text-anchor="end">−0.4</text>
<text x="95" y="1121.6" font-size="26" font-weight="normal" text-anchor="middle">1</text>
<text x="203.8" y="1121.6" font-size="26" text-anchor="middle">10<tspan font-size="19" dy="-12.5">1</tspan></text>
<text x="313.1" y="1121.6" font-size="26" text-anchor="middle">10<tspan font-size="19" dy="-12.5">2</tspan></text>
<text x="422.4" y="1121.6" font-size="26" text-anchor="middle">10<tspan font-size="19" dy="-12.5">3</tspan></text>
<text x="531.7" y="1121.6" font-size="26" text-anchor="middle">10<tspan font-size="19" dy="-12.5">4</tspan></text>
<text x="328.25" y="1151.7" font-size="29.4" font-weight="bold" text-anchor="middle">Ba [ppm]</text>
<text transform="translate(31.5 846.2) rotate(-90)" font-size="30" font-weight="bold" text-anchor="middle">δ<tspan font-size="21.5" dy="-13.5">138/134</tspan><tspan dy="13.5">Ba [‰]</tspan></text>
<defs><linearGradient id="cb598" x1="0" y1="1" x2="0" y2="0"><stop offset="0.0000" stop-color="#8CE4FA"/><stop offset="0.1250" stop-color="#9CABCC"/><stop offset="0.2500" stop-color="#BA7A98"/><stop offset="0.3750" stop-color="#DD4A58"/><stop offset="0.5000" stop-color="#FF2D14"/><stop offset="0.6250" stop-color="#C92A5C"/><stop offset="0.7500" stop-color="#8C2AA6"/><stop offset="0.8750" stop-color="#5220FA"/><stop offset="1.0000" stop-color="#2E16FF"/></linearGradient></defs>
<rect x="584.8" y="598.7" width="32.5" height="492.9" fill="url(#cb598)" stroke="#000" stroke-width="2.4"/>
<path d="M617.3 1060.8h-8.5M617.3 1030.0h-16.5M617.3 999.2h-8.5M617.3 968.4h-16.5M617.3 937.6h-8.5M617.3 906.8h-16.5M617.3 876.0h-8.5M617.3 845.1h-16.5M617.3 814.3h-8.5M617.3 783.5h-16.5M617.3 752.7h-8.5M617.3 721.9h-16.5M617.3 691.1h-8.5M617.3 660.3h-16.5M617.3 629.5h-8.5" stroke="#000" stroke-width="2.2" fill="none"/>
<text x="626" y="1099.9" font-size="23" font-weight="normal" text-anchor="start">0</text>
<text x="626" y="1038.3" font-size="23" font-weight="normal" text-anchor="start">200</text>
<text x="626" y="976.7" font-size="23" font-weight="normal" text-anchor="start">400</text>
<text x="626" y="915.1" font-size="23" font-weight="normal" text-anchor="start">600</text>
<text x="626" y="853.4" font-size="23" font-weight="normal" text-anchor="start">800</text>
<text x="626" y="791.8" font-size="23" font-weight="normal" text-anchor="start">1000</text>
<text x="626" y="730.2" font-size="23" font-weight="normal" text-anchor="start">1200</text>
<text x="626" y="668.6" font-size="23" font-weight="normal" text-anchor="start">1400</text>
<text x="626" y="607.0" font-size="23" font-weight="normal" text-anchor="start">1600</text>
<text x="568.4" y="1149.8" font-size="22.5" font-weight="bold" text-anchor="start">REE [ppm]</text>
<rect x="110.7" y="1169.8" width="441.3" height="143.8" fill="none" stroke="#000" stroke-width="2.2"/>
<path d="M363.1 1169.8V1313.6" stroke="#000" stroke-width="2.2"/>
<text x="120.9" y="1194.9" font-size="22.9" font-weight="normal" text-anchor="start">This study</text>
<circle cx="134.2" cy="1215.3" r="9.6" fill="none" stroke="#000" stroke-width="2.2"/>
<text x="156.8" y="1222.1" font-size="22.9" font-weight="normal" text-anchor="start">Syenite (Luxi)</text>
<path d="M134.1 1231.1L145.2 1242.2L134.1 1253.3L123 1242.2Z" fill="none" stroke="#000" stroke-width="2.2"/>
<text x="156.8" y="1249.0" font-size="22.9" font-weight="normal" text-anchor="start">Syenite (Saima)</text>
<path d="M140.0 1269.9L145.0 1274.9L139.0 1280.9L134.0 1275.9L129.0 1280.9L123.0 1274.9L128.0 1269.9L123.0 1264.9L129.0 1258.9L134.0 1263.9L139.0 1258.9L145.0 1264.9Z" fill="#69C85F"/>
<text x="156.3" y="1275.8" font-size="22.9" font-weight="normal" text-anchor="start">Lamprophyre (Luxi)</text>
<text x="367.4" y="1194.2" font-size="22.9" font-weight="normal" text-anchor="start">Literature data</text>
<path d="M382.2 1202L393.5 1221L370.9 1221Z" fill="none" stroke="#8C8C8C" stroke-width="3"/>
<text x="404.4" y="1221.3" font-size="22.9" font-weight="normal" text-anchor="start">MORB</text>
<path d="M370.4 1236L394 1236L382.2 1255.8Z" fill="#6E6E6E" stroke="#EBEBEB" stroke-width="3.4"/>
<text x="404.9" y="1249.3" font-size="22.9" font-weight="normal" text-anchor="start">OIB</text>
<path d="M375.1 1257.9L395.9 1269.5L375.1 1281.1Z" fill="#BEBEBE"/>
<text x="404.4" y="1277" font-size="22.9" font-weight="normal" text-anchor="start">Lamprophyre</text>
<path d="M368.1 1296.9H396.3M382.5 1282.9V1310.7" stroke="#919191" stroke-width="4.6"/>
<text x="404.4" y="1304" font-size="22.9" font-weight="normal" text-anchor="start">Eclogite</text>
</svg></body></html>
